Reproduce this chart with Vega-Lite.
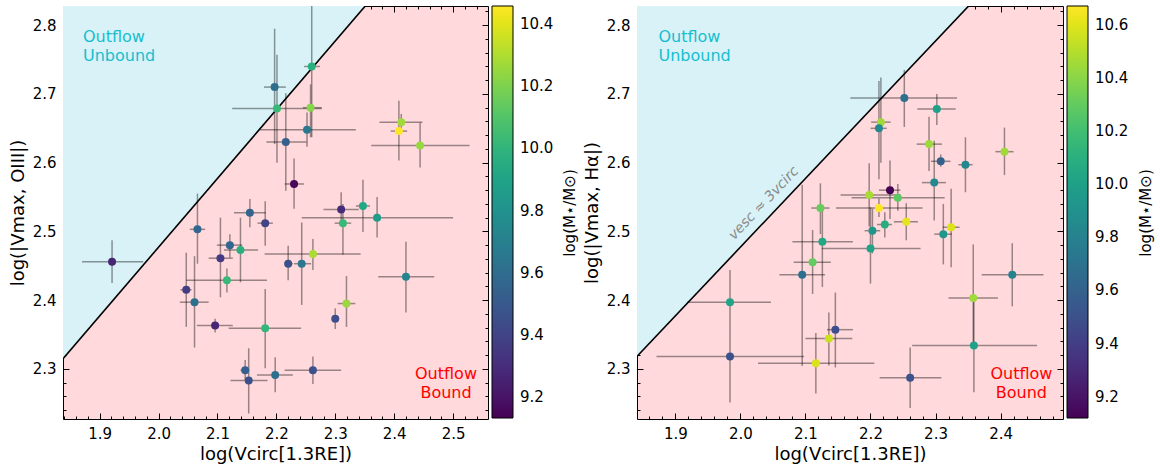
{
  "$schema": "https://vega.github.io/schema/vega-lite/v6.json",
  "padding": {"left": 8, "top": 5, "right": 5, "bottom": 0},
  "spacing": 4,
  "config": {
    "font": "DejaVu Sans",
    "view": {"fill": "#ffd9dc", "stroke": "black", "strokeWidth": 1},
    "axis": {"grid": false, "domain": false, "tickColor": "black", "tickWidth": 1, "labelColor": "black", "titleColor": "black", "labelFont": "DejaVu Sans", "titleFont": "DejaVu Sans", "labelFontSize": 15, "titleFontSize": 18, "titleFontWeight": "normal", "labelFlush": false, "labelOverlap": false},
    "legend": {"labelFont": "DejaVu Sans", "titleFont": "DejaVu Sans", "labelFontSize": 15, "titleFontSize": 15, "titleFontWeight": "normal", "labelColor": "black", "titleColor": "black", "labelOverlap": false}
  },
  "datasets": {
    "bgline": [{"x": 1.8, "y": 2.2771, "top": 2.95}, {"x": 2.6, "y": 3.0771, "top": 2.95}],
    "left": [
      {"x": 2.260, "xlo": 2.247, "xhi": 2.274, "y": 2.740, "ylo": 2.637, "yhi": 2.86, "m": 9.97},
      {"x": 2.197, "xlo": 2.179, "xhi": 2.216, "y": 2.710, "ylo": 2.627, "yhi": 2.795, "m": 9.60},
      {"x": 2.201, "xlo": 2.125, "xhi": 2.277, "y": 2.679, "ylo": 2.600, "yhi": 2.757, "m": 10.03},
      {"x": 2.258, "xlo": 2.245, "xhi": 2.277, "y": 2.680, "ylo": 2.637, "yhi": 2.714, "m": 10.22},
      {"x": 2.252, "xlo": 2.172, "xhi": 2.335, "y": 2.648, "ylo": 2.623, "yhi": 2.673, "m": 9.66},
      {"x": 2.216, "xlo": 2.183, "xhi": 2.251, "y": 2.630, "ylo": 2.559, "yhi": 2.701, "m": 9.53},
      {"x": 2.230, "xlo": 2.214, "xhi": 2.247, "y": 2.569, "ylo": 2.533, "yhi": 2.606, "m": 9.16},
      {"x": 2.412, "xlo": 2.375, "xhi": 2.448, "y": 2.659, "ylo": 2.646, "yhi": 2.671, "m": 10.27},
      {"x": 2.408, "xlo": 2.394, "xhi": 2.422, "y": 2.646, "ylo": 2.603, "yhi": 2.690, "m": 10.458},
      {"x": 2.444, "xlo": 2.361, "xhi": 2.528, "y": 2.625, "ylo": 2.593, "yhi": 2.658, "m": 10.25},
      {"x": 2.155, "xlo": 2.128, "xhi": 2.182, "y": 2.527, "ylo": 2.506, "yhi": 2.547, "m": 9.56},
      {"x": 2.181, "xlo": 2.168, "xhi": 2.194, "y": 2.512, "ylo": 2.479, "yhi": 2.544, "m": 9.40},
      {"x": 2.310, "xlo": 2.280, "xhi": 2.340, "y": 2.532, "ylo": 2.508, "yhi": 2.557, "m": 9.29},
      {"x": 2.347, "xlo": 2.335, "xhi": 2.359, "y": 2.537, "ylo": 2.499, "yhi": 2.575, "m": 9.93},
      {"x": 2.371, "xlo": 2.243, "xhi": 2.500, "y": 2.520, "ylo": 2.491, "yhi": 2.550, "m": 9.86},
      {"x": 2.313, "xlo": 2.299, "xhi": 2.327, "y": 2.512, "ylo": 2.466, "yhi": 2.540, "m": 10.03},
      {"x": 2.066, "xlo": 2.053, "xhi": 2.079, "y": 2.503, "ylo": 2.453, "yhi": 2.555, "m": 9.57},
      {"x": 1.921, "xlo": 1.870, "xhi": 1.974, "y": 2.456, "ylo": 2.425, "yhi": 2.487, "m": 9.27},
      {"x": 2.121, "xlo": 2.099, "xhi": 2.142, "y": 2.480, "ylo": 2.462, "yhi": 2.496, "m": 9.57},
      {"x": 2.139, "xlo": 2.111, "xhi": 2.169, "y": 2.473, "ylo": 2.426, "yhi": 2.520, "m": 9.97},
      {"x": 2.105, "xlo": 2.085, "xhi": 2.126, "y": 2.461, "ylo": 2.404, "yhi": 2.520, "m": 9.36},
      {"x": 2.116, "xlo": 2.047, "xhi": 2.184, "y": 2.429, "ylo": 2.411, "yhi": 2.446, "m": 10.03},
      {"x": 2.047, "xlo": 2.037, "xhi": 2.056, "y": 2.415, "ylo": 2.361, "yhi": 2.469, "m": 9.37},
      {"x": 2.061, "xlo": 2.036, "xhi": 2.085, "y": 2.397, "ylo": 2.331, "yhi": 2.464, "m": 9.62},
      {"x": 2.096, "xlo": 2.065, "xhi": 2.126, "y": 2.363, "ylo": 2.353, "yhi": 2.373, "m": 9.27},
      {"x": 2.181, "xlo": 2.119, "xhi": 2.242, "y": 2.359, "ylo": 2.301, "yhi": 2.416, "m": 10.01},
      {"x": 2.220, "xlo": 2.214, "xhi": 2.228, "y": 2.453, "ylo": 2.429, "yhi": 2.479, "m": 9.46},
      {"x": 2.243, "xlo": 2.230, "xhi": 2.259, "y": 2.453, "ylo": 2.393, "yhi": 2.513, "m": 9.66},
      {"x": 2.262, "xlo": 2.180, "xhi": 2.343, "y": 2.467, "ylo": 2.444, "yhi": 2.489, "m": 10.29},
      {"x": 2.319, "xlo": 2.304, "xhi": 2.334, "y": 2.395, "ylo": 2.361, "yhi": 2.435, "m": 10.26},
      {"x": 2.300, "xlo": 2.294, "xhi": 2.306, "y": 2.373, "ylo": 2.358, "yhi": 2.388, "m": 9.44},
      {"x": 2.420, "xlo": 2.373, "xhi": 2.468, "y": 2.434, "ylo": 2.382, "yhi": 2.485, "m": 9.73},
      {"x": 2.147, "xlo": 2.139, "xhi": 2.154, "y": 2.298, "ylo": 2.284, "yhi": 2.313, "m": 9.53},
      {"x": 2.153, "xlo": 2.122, "xhi": 2.185, "y": 2.283, "ylo": 2.235, "yhi": 2.330, "m": 9.46},
      {"x": 2.198, "xlo": 2.167, "xhi": 2.228, "y": 2.291, "ylo": 2.266, "yhi": 2.317, "m": 9.62},
      {"x": 2.262, "xlo": 2.214, "xhi": 2.310, "y": 2.298, "ylo": 2.278, "yhi": 2.318, "m": 9.46}
    ],
    "right": [
      {"x": 2.252, "xlo": 2.169, "xhi": 2.333, "y": 2.694, "ylo": 2.652, "yhi": 2.735, "m": 9.69},
      {"x": 2.302, "xlo": 2.272, "xhi": 2.331, "y": 2.678, "ylo": 2.655, "yhi": 2.700, "m": 10.00},
      {"x": 2.216, "xlo": 2.201, "xhi": 2.231, "y": 2.659, "ylo": 2.600, "yhi": 2.724, "m": 10.45},
      {"x": 2.213, "xlo": 2.200, "xhi": 2.225, "y": 2.650, "ylo": 2.576, "yhi": 2.719, "m": 9.85},
      {"x": 2.290, "xlo": 2.271, "xhi": 2.310, "y": 2.627, "ylo": 2.588, "yhi": 2.667, "m": 10.44},
      {"x": 2.308, "xlo": 2.293, "xhi": 2.323, "y": 2.602, "ylo": 2.594, "yhi": 2.612, "m": 9.60},
      {"x": 2.346, "xlo": 2.335, "xhi": 2.357, "y": 2.597, "ylo": 2.557, "yhi": 2.637, "m": 9.83},
      {"x": 2.406, "xlo": 2.392, "xhi": 2.420, "y": 2.616, "ylo": 2.582, "yhi": 2.651, "m": 10.45},
      {"x": 2.298, "xlo": 2.279, "xhi": 2.316, "y": 2.571, "ylo": 2.516, "yhi": 2.632, "m": 9.85},
      {"x": 2.230, "xlo": 2.213, "xhi": 2.246, "y": 2.560, "ylo": 2.518, "yhi": 2.603, "m": 9.12},
      {"x": 2.198, "xlo": 2.154, "xhi": 2.246, "y": 2.553, "ylo": 2.507, "yhi": 2.599, "m": 10.47},
      {"x": 2.242, "xlo": 2.171, "xhi": 2.314, "y": 2.549, "ylo": 2.530, "yhi": 2.569, "m": 10.28},
      {"x": 2.123, "xlo": 2.109, "xhi": 2.137, "y": 2.534, "ylo": 2.496, "yhi": 2.570, "m": 10.31},
      {"x": 2.213, "xlo": 2.147, "xhi": 2.280, "y": 2.534, "ylo": 2.521, "yhi": 2.548, "m": 10.67},
      {"x": 2.255, "xlo": 2.236, "xhi": 2.273, "y": 2.514, "ylo": 2.487, "yhi": 2.541, "m": 10.61},
      {"x": 2.324, "xlo": 2.311, "xhi": 2.337, "y": 2.506, "ylo": 2.448, "yhi": 2.562, "m": 10.59},
      {"x": 2.222, "xlo": 2.210, "xhi": 2.233, "y": 2.510, "ylo": 2.491, "yhi": 2.528, "m": 10.08},
      {"x": 2.203, "xlo": 2.191, "xhi": 2.215, "y": 2.501, "ylo": 2.468, "yhi": 2.533, "m": 9.94},
      {"x": 2.312, "xlo": 2.298, "xhi": 2.325, "y": 2.496, "ylo": 2.452, "yhi": 2.540, "m": 9.94},
      {"x": 2.126, "xlo": 2.080, "xhi": 2.173, "y": 2.485, "ylo": 2.419, "yhi": 2.537, "m": 10.05},
      {"x": 2.200, "xlo": 2.125, "xhi": 2.277, "y": 2.475, "ylo": 2.424, "yhi": 2.535, "m": 10.02},
      {"x": 2.111, "xlo": 2.082, "xhi": 2.139, "y": 2.455, "ylo": 2.409, "yhi": 2.502, "m": 10.30},
      {"x": 2.095, "xlo": 2.060, "xhi": 2.130, "y": 2.437, "ylo": 2.304, "yhi": 2.568, "m": 9.69},
      {"x": 1.984, "xlo": 1.918, "xhi": 2.047, "y": 2.397, "ylo": 2.348, "yhi": 2.444, "m": 10.03},
      {"x": 1.984, "xlo": 1.871, "xhi": 2.098, "y": 2.318, "ylo": 2.251, "yhi": 2.348, "m": 9.51},
      {"x": 2.146, "xlo": 2.133, "xhi": 2.173, "y": 2.357, "ylo": 2.302, "yhi": 2.411, "m": 9.48},
      {"x": 2.136, "xlo": 2.100, "xhi": 2.172, "y": 2.344, "ylo": 2.305, "yhi": 2.382, "m": 10.55},
      {"x": 2.116, "xlo": 2.027, "xhi": 2.206, "y": 2.308, "ylo": 2.264, "yhi": 2.352, "m": 10.58},
      {"x": 2.261, "xlo": 2.214, "xhi": 2.309, "y": 2.287, "ylo": 2.243, "yhi": 2.331, "m": 9.51},
      {"x": 2.358, "xlo": 2.320, "xhi": 2.396, "y": 2.403, "ylo": 2.330, "yhi": 2.481, "m": 10.45},
      {"x": 2.359, "xlo": 2.264, "xhi": 2.456, "y": 2.334, "ylo": 2.266, "yhi": 2.402, "m": 10.00},
      {"x": 2.418, "xlo": 2.371, "xhi": 2.466, "y": 2.437, "ylo": 2.391, "yhi": 2.483, "m": 9.80}
    ],
    "unboundL": [{"x": 1.8716, "y": 2.7757, "t": "Outflow\nUnbound"}],
    "boundL": [{"x": 2.488, "y": 2.285, "t": "Outflow\nBound"}],
    "unboundR": [{"x": 1.874, "y": 2.7757, "t": "Outflow\nUnbound"}],
    "boundR": [{"x": 2.432, "y": 2.285, "t": "Outflow\nBound"}],
    "vesc": [{"x": 2.036, "y": 2.541, "t": "vesc ≈ 3vcirc"}]
  },
  "resolve": {"scale": {"color": "independent"}, "legend": {"color": "independent"}},
  "hconcat": [
    {
      "width": 425, "height": 413,
      "resolve": {"axis": {"x": "independent", "y": "independent"}},
      "layer": [
        {"data": {"name": "bgline"}, "mark": {"type": "area", "color": "#d8f2f7", "clip": true, "opacity": 1},
         "encoding": {
           "x": {"field": "x", "type": "quantitative", "scale": {"domain": [1.8377, 2.5593], "nice": false, "zero": false},
                 "axis": {"orient": "bottom", "values": [1.9, 2.0, 2.1, 2.2, 2.3, 2.4, 2.5], "format": ".1f", "ticks": false, "tickSize": 0, "labelPadding": 7, "title": "log(Vcirc[1.3RE])", "titlePadding": 4}},
           "y": {"field": "y", "type": "quantitative", "scale": {"domain": [2.227, 2.828], "nice": false, "zero": false},
                 "axis": {"orient": "left", "values": [2.3, 2.4, 2.5, 2.6, 2.7, 2.8], "format": ".1f", "ticks": false, "tickSize": 0, "labelPadding": 7, "title": "log(|Vmax, OIII|)", "titlePadding": 5}},
           "y2": {"field": "top"}}},
        {"data": {"name": "bgline"}, "mark": {"type": "line", "color": "black", "strokeWidth": 1.6, "clip": true},
         "encoding": {
           "x": {"field": "x", "type": "quantitative", "scale": {"domain": [1.8377, 2.5593], "nice": false, "zero": false},
                 "axis": {"orient": "bottom", "values": [1.9, 2.0, 2.1, 2.2, 2.3, 2.4, 2.5], "labels": false, "tickSize": -6, "title": null}},
           "y": {"field": "y", "type": "quantitative", "scale": {"domain": [2.227, 2.828], "nice": false, "zero": false},
                 "axis": {"orient": "left", "values": [2.3, 2.4, 2.5, 2.6, 2.7, 2.8], "labels": false, "tickSize": -6, "title": null}}}},
        {"data": {"name": "left"}, "mark": {"type": "rule", "color": "black", "opacity": 0.4, "strokeWidth": 1.5, "clip": true},
         "encoding": {
           "x": {"field": "xlo", "type": "quantitative", "scale": {"domain": [1.8377, 2.5593], "nice": false, "zero": false},
                 "axis": {"orient": "top", "values": [1.9, 2.0, 2.1, 2.2, 2.3, 2.4, 2.5], "labels": false, "tickSize": -6, "title": null}},
           "x2": {"field": "xhi"},
           "y": {"field": "y", "type": "quantitative", "scale": {"domain": [2.227, 2.828], "nice": false, "zero": false},
                 "axis": {"orient": "right", "values": [2.3, 2.4, 2.5, 2.6, 2.7, 2.8], "labels": false, "tickSize": -6, "title": null}}}},
        {"data": {"name": "left"}, "mark": {"type": "rule", "color": "black", "opacity": 0.4, "strokeWidth": 1.5, "clip": true},
         "encoding": {
           "x": {"field": "x", "type": "quantitative", "scale": {"domain": [1.8377, 2.5593], "nice": false, "zero": false},
                 "axis": {"orient": "bottom", "values": [1.84, 1.86, 1.88, 1.92, 1.94, 1.96, 1.98, 2.02, 2.04, 2.06, 2.08, 2.12, 2.14, 2.16, 2.18, 2.22, 2.24, 2.26, 2.28, 2.32, 2.34, 2.36, 2.38, 2.42, 2.44, 2.46, 2.48, 2.52, 2.54], "labels": false, "tickSize": -3, "title": null}},
           "y": {"field": "ylo", "type": "quantitative", "scale": {"domain": [2.227, 2.828], "nice": false, "zero": false},
                 "axis": {"orient": "left", "values": [2.24, 2.26, 2.28, 2.32, 2.34, 2.36, 2.38, 2.42, 2.44, 2.46, 2.48, 2.52, 2.54, 2.56, 2.58, 2.62, 2.64, 2.66, 2.68, 2.72, 2.74, 2.76, 2.78, 2.82], "labels": false, "tickSize": -3, "title": null}},
           "y2": {"field": "yhi"}}},
        {"data": {"name": "left"}, "mark": {"type": "circle", "size": 64, "opacity": 1},
         "encoding": {
           "x": {"field": "x", "type": "quantitative", "scale": {"domain": [1.8377, 2.5593], "nice": false, "zero": false},
                 "axis": {"orient": "top", "values": [1.84, 1.86, 1.88, 1.92, 1.94, 1.96, 1.98, 2.02, 2.04, 2.06, 2.08, 2.12, 2.14, 2.16, 2.18, 2.22, 2.24, 2.26, 2.28, 2.32, 2.34, 2.36, 2.38, 2.42, 2.44, 2.46, 2.48, 2.52, 2.54], "labels": false, "tickSize": -3, "title": null}},
           "y": {"field": "y", "type": "quantitative", "scale": {"domain": [2.227, 2.828], "nice": false, "zero": false},
                 "axis": {"orient": "right", "values": [2.24, 2.26, 2.28, 2.32, 2.34, 2.36, 2.38, 2.42, 2.44, 2.46, 2.48, 2.52, 2.54, 2.56, 2.58, 2.62, 2.64, 2.66, 2.68, 2.72, 2.74, 2.76, 2.78, 2.82], "labels": false, "tickSize": -3, "title": null}},
           "color": {"field": "m", "type": "quantitative", "scale": {"scheme": "viridis", "domain": [9.133, 10.458]},
                     "legend": {"title": null, "orient": "none", "legendX": 429, "legendY": 0, "values": [9.2, 9.4, 9.6, 9.8, 10.0, 10.2, 10.4], "format": ".1f", "gradientLength": 412, "gradientThickness": 21, "gradientStrokeColor": "black", "gradientStrokeWidth": 1, "labelOffset": 7}}}},
        {"data": {"name": "unboundL"}, "mark": {"type": "text", "color": "#17becf", "fontSize": 16, "align": "left", "baseline": "alphabetic", "lineBreak": "\n", "lineHeight": 19},
         "encoding": {"x": {"field": "x", "type": "quantitative", "scale": {"domain": [1.8377, 2.5593], "nice": false, "zero": false}, "axis": null},
                      "y": {"field": "y", "type": "quantitative", "scale": {"domain": [2.227, 2.828], "nice": false, "zero": false},
                            "axis": {"orient": "right", "labels": false, "ticks": false, "tickSize": 0, "domain": false, "title": "log(M⋆/M⊙)", "titleAngle": 270, "titleFontSize": 15, "titlePadding": 89, "titleBaseline": "bottom"}},
                      "text": {"field": "t"}}},
        {"data": {"name": "boundL"}, "mark": {"type": "text", "color": "red", "fontSize": 16, "align": "center", "baseline": "alphabetic", "lineBreak": "\n", "lineHeight": 19},
         "encoding": {"x": {"field": "x", "type": "quantitative", "scale": {"domain": [1.8377, 2.5593], "nice": false, "zero": false}, "axis": null}, "y": {"field": "y", "type": "quantitative", "scale": {"domain": [2.227, 2.828], "nice": false, "zero": false}, "axis": null}, "text": {"field": "t"}}}
      ]
    },
    {
      "width": 426, "height": 413,
      "resolve": {"axis": {"x": "independent", "y": "independent"}},
      "layer": [
        {"data": {"name": "bgline"}, "mark": {"type": "area", "color": "#d8f2f7", "clip": true, "opacity": 1},
         "encoding": {
           "x": {"field": "x", "type": "quantitative", "scale": {"domain": [1.841, 2.496], "nice": false, "zero": false},
                 "axis": {"orient": "bottom", "values": [1.9, 2.0, 2.1, 2.2, 2.3, 2.4], "format": ".1f", "ticks": false, "tickSize": 0, "labelPadding": 7, "title": "log(Vcirc[1.3RE])", "titlePadding": 4}},
           "y": {"field": "y", "type": "quantitative", "scale": {"domain": [2.227, 2.828], "nice": false, "zero": false},
                 "axis": {"orient": "left", "values": [2.3, 2.4, 2.5, 2.6, 2.7, 2.8], "format": ".1f", "ticks": false, "tickSize": 0, "labelPadding": 7, "title": "log(|Vmax, Hα|)", "titlePadding": 5}},
           "y2": {"field": "top"}}},
        {"data": {"name": "bgline"}, "mark": {"type": "line", "color": "black", "strokeWidth": 1.6, "clip": true},
         "encoding": {
           "x": {"field": "x", "type": "quantitative", "scale": {"domain": [1.841, 2.496], "nice": false, "zero": false},
                 "axis": {"orient": "bottom", "values": [1.9, 2.0, 2.1, 2.2, 2.3, 2.4], "labels": false, "tickSize": -6, "title": null}},
           "y": {"field": "y", "type": "quantitative", "scale": {"domain": [2.227, 2.828], "nice": false, "zero": false},
                 "axis": {"orient": "left", "values": [2.3, 2.4, 2.5, 2.6, 2.7, 2.8], "labels": false, "tickSize": -6, "title": null}}}},
        {"data": {"name": "right"}, "mark": {"type": "rule", "color": "black", "opacity": 0.4, "strokeWidth": 1.5, "clip": true},
         "encoding": {
           "x": {"field": "xlo", "type": "quantitative", "scale": {"domain": [1.841, 2.496], "nice": false, "zero": false},
                 "axis": {"orient": "top", "values": [1.9, 2.0, 2.1, 2.2, 2.3, 2.4], "labels": false, "tickSize": -6, "title": null}},
           "x2": {"field": "xhi"},
           "y": {"field": "y", "type": "quantitative", "scale": {"domain": [2.227, 2.828], "nice": false, "zero": false},
                 "axis": {"orient": "right", "values": [2.3, 2.4, 2.5, 2.6, 2.7, 2.8], "labels": false, "tickSize": -6, "title": null}}}},
        {"data": {"name": "right"}, "mark": {"type": "rule", "color": "black", "opacity": 0.4, "strokeWidth": 1.5, "clip": true},
         "encoding": {
           "x": {"field": "x", "type": "quantitative", "scale": {"domain": [1.841, 2.496], "nice": false, "zero": false},
                 "axis": {"orient": "bottom", "values": [1.86, 1.88, 1.92, 1.94, 1.96, 1.98, 2.02, 2.04, 2.06, 2.08, 2.12, 2.14, 2.16, 2.18, 2.22, 2.24, 2.26, 2.28, 2.32, 2.34, 2.36, 2.38, 2.42, 2.44, 2.46, 2.48], "labels": false, "tickSize": -3, "title": null}},
           "y": {"field": "ylo", "type": "quantitative", "scale": {"domain": [2.227, 2.828], "nice": false, "zero": false},
                 "axis": {"orient": "left", "values": [2.24, 2.26, 2.28, 2.32, 2.34, 2.36, 2.38, 2.42, 2.44, 2.46, 2.48, 2.52, 2.54, 2.56, 2.58, 2.62, 2.64, 2.66, 2.68, 2.72, 2.74, 2.76, 2.78, 2.82], "labels": false, "tickSize": -3, "title": null}},
           "y2": {"field": "yhi"}}},
        {"data": {"name": "right"}, "mark": {"type": "circle", "size": 64, "opacity": 1},
         "encoding": {
           "x": {"field": "x", "type": "quantitative", "scale": {"domain": [1.841, 2.496], "nice": false, "zero": false},
                 "axis": {"orient": "top", "values": [1.86, 1.88, 1.92, 1.94, 1.96, 1.98, 2.02, 2.04, 2.06, 2.08, 2.12, 2.14, 2.16, 2.18, 2.22, 2.24, 2.26, 2.28, 2.32, 2.34, 2.36, 2.38, 2.42, 2.44, 2.46, 2.48], "labels": false, "tickSize": -3, "title": null}},
           "y": {"field": "y", "type": "quantitative", "scale": {"domain": [2.227, 2.828], "nice": false, "zero": false},
                 "axis": {"orient": "right", "values": [2.24, 2.26, 2.28, 2.32, 2.34, 2.36, 2.38, 2.42, 2.44, 2.46, 2.48, 2.52, 2.54, 2.56, 2.58, 2.62, 2.64, 2.66, 2.68, 2.72, 2.74, 2.76, 2.78, 2.82], "labels": false, "tickSize": -3, "title": null}},
           "color": {"field": "m", "type": "quantitative", "scale": {"scheme": "viridis", "domain": [9.12, 10.67]},
                     "legend": {"title": null, "orient": "none", "legendX": 430, "legendY": 0, "values": [9.2, 9.4, 9.6, 9.8, 10.0, 10.2, 10.4, 10.6], "format": ".1f", "gradientLength": 412, "gradientThickness": 21, "gradientStrokeColor": "black", "gradientStrokeWidth": 1, "labelOffset": 7}}}},
        {"data": {"name": "unboundR"}, "mark": {"type": "text", "color": "#17becf", "fontSize": 16, "align": "left", "baseline": "alphabetic", "lineBreak": "\n", "lineHeight": 19},
         "encoding": {"x": {"field": "x", "type": "quantitative", "scale": {"domain": [1.841, 2.496], "nice": false, "zero": false}, "axis": null},
                      "y": {"field": "y", "type": "quantitative", "scale": {"domain": [2.227, 2.828], "nice": false, "zero": false},
                            "axis": {"orient": "right", "labels": false, "ticks": false, "tickSize": 0, "domain": false, "title": "log(M⋆/M⊙)", "titleAngle": 270, "titleFontSize": 15, "titlePadding": 90, "titleBaseline": "bottom"}},
                      "text": {"field": "t"}}},
        {"data": {"name": "boundR"}, "mark": {"type": "text", "color": "red", "fontSize": 16, "align": "center", "baseline": "alphabetic", "lineBreak": "\n", "lineHeight": 19},
         "encoding": {"x": {"field": "x", "type": "quantitative", "scale": {"domain": [1.841, 2.496], "nice": false, "zero": false}, "axis": null}, "y": {"field": "y", "type": "quantitative", "scale": {"domain": [2.227, 2.828], "nice": false, "zero": false}, "axis": null}, "text": {"field": "t"}}},
        {"data": {"name": "vesc"}, "mark": {"type": "text", "color": "#8a8a8a", "fontSize": 14, "fontStyle": "italic", "align": "center", "baseline": "middle", "angle": -46.6},
         "encoding": {"x": {"field": "x", "type": "quantitative", "scale": {"domain": [1.841, 2.496], "nice": false, "zero": false}, "axis": null}, "y": {"field": "y", "type": "quantitative", "scale": {"domain": [2.227, 2.828], "nice": false, "zero": false}, "axis": null}, "text": {"field": "t"}}}
      ]
    }
  ]
}
